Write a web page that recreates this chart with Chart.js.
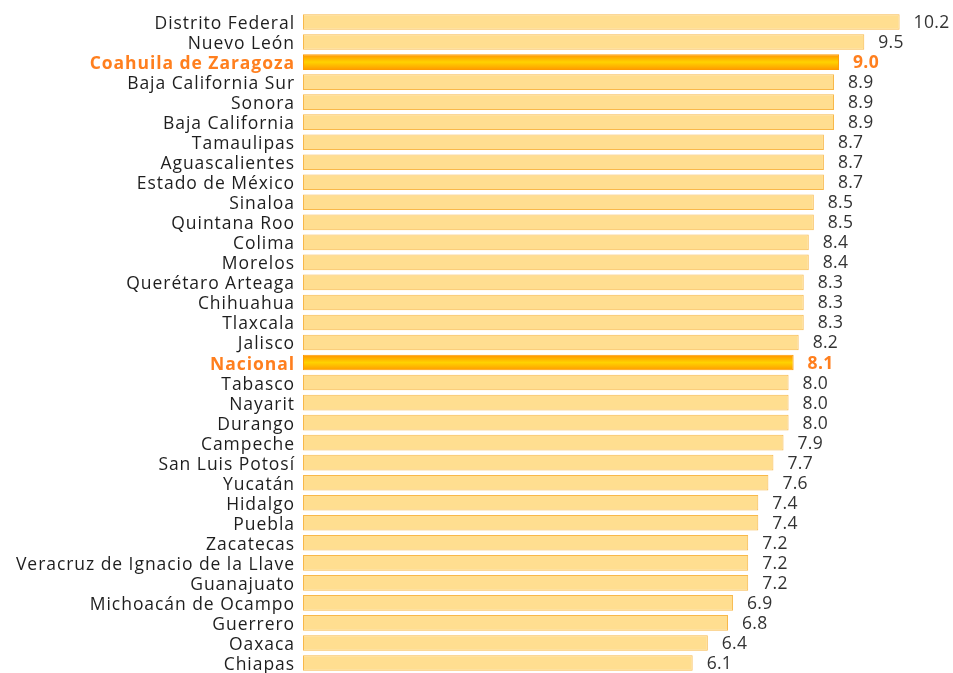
<!DOCTYPE html>
<html>
<head>
<meta charset="utf-8">
<script src="https://cdn.jsdelivr.net/npm/chart.js@4.4.1/dist/chart.umd.min.js"></script>
<style>
    html, body { margin: 0; padding: 0; background: #fff; }
    #wrap { width: 953px; height: 673px; }
</style>
</head>
<body>
<div id="wrap"><canvas id="chart" width="953" height="673"></canvas></div>
<script>
    // ===== Data =====
    const categories = ['Distrito Federal', 'Nuevo León', 'Coahuila de Zaragoza', 'Baja California Sur', 'Sonora',
        'Baja California', 'Tamaulipas', 'Aguascalientes', 'Estado de México', 'Sinaloa', 'Quintana Roo', 'Colima',
        'Morelos', 'Querétaro Arteaga', 'Chihuahua', 'Tlaxcala', 'Jalisco', 'Nacional', 'Tabasco', 'Nayarit',
        'Durango', 'Campeche', 'San Luis Potosí', 'Yucatán', 'Hidalgo', 'Puebla', 'Zacatecas',
        'Veracruz de Ignacio de la Llave', 'Guanajuato', 'Michoacán de Ocampo', 'Guerrero', 'Oaxaca', 'Chiapas'];
    const values = [10.2, 9.5, 9.0, 8.9, 8.9, 8.9, 8.7, 8.7, 8.7, 8.5, 8.5, 8.4, 8.4, 8.3, 8.3, 8.3, 8.2, 8.1,
        8.0, 8.0, 8.0, 7.9, 7.7, 7.6, 7.4, 7.4, 7.2, 7.2, 7.2, 6.9, 6.8, 6.4, 6.1];
    const highlighted = ['Coahuila de Zaragoza', 'Nacional'];

    const FONT = '"Open Sans", "DejaVu Sans", sans-serif';
    const ORANGE = '#ff7f1e';
    const AXIS_MIN = -1.62;
    const isHi = i => highlighted.includes(categories[i]);

    // vertical orange-yellow-orange gradient for the highlighted bars
    function hiGradient(ctx) {
        const y = ctx.chart.scales.y;
        if (!y) return '#ffc400';
        const cy = y.getPixelForValue(ctx.dataIndex);
        const h = (y.height / categories.length) * 0.78;
        const g = ctx.chart.ctx.createLinearGradient(0, cy - h / 2, 0, cy + h / 2);
        g.addColorStop(0, '#ff9200');
        g.addColorStop(0.5, '#ffd200');
        g.addColorStop(1, '#ff9a00');
        return g;
    }

    // wider letter spacing, like the original typeface
    const spacing = {
        id: 'spacing',
        beforeDraw(chart) {
            chart.ctx.letterSpacing = '0.95px';
        }
    };

    // value labels at the bar ends
    const valueLabels = {
        id: 'valueLabels',
        afterDatasetsDraw(chart) {
            const c = chart.ctx;
            const meta = chart.getDatasetMeta(0);
            c.save();
            c.letterSpacing = '0.3px';
            c.textBaseline = 'middle';
            c.textAlign = 'left';
            meta.data.forEach((bar, i) => {
                c.font = (isHi(i) ? 'bold ' : '') + '17.5px ' + FONT;
                c.fillStyle = isHi(i) ? ORANGE : '#333';
                c.fillText(values[i].toFixed(1), bar.x + 14, bar.y + 1);
            });
            c.restore();
        }
    };

    new Chart(document.getElementById('chart').getContext('2d'), {
        type: 'bar',
        data: {
            labels: categories,
            datasets: [{
                data: values,
                base: AXIS_MIN,
                backgroundColor: ctx => isHi(ctx.dataIndex) ? hiGradient(ctx) : '#ffde90',
                borderColor: ctx => isHi(ctx.dataIndex) ? '#ff9a00' : '#f8b84a',
                borderWidth: 1,
                borderSkipped: false,
                barPercentage: 0.78,
                categoryPercentage: 1.0
            }]
        },
        options: {
            indexAxis: 'y',
            responsive: false,
            animation: false,
            layout: { padding: { top: 12, right: 13, bottom: -1, left: 0 } },
            plugins: {
                legend: { display: false },
                tooltip: { enabled: false }
            },
            scales: {
                x: {
                    min: AXIS_MIN,
                    max: 11,
                    display: false
                },
                y: {
                    grid: { display: false, drawTicks: false },
                    border: { display: false },
                    afterFit: scale => {
                        scale.width = 303;
                        scale.paddingTop = 0;
                        scale.paddingBottom = 0;
                    },
                    ticks: {
                        autoSkip: false,
                        padding: 8,
                        labelOffset: 2,
                        color: ctx => isHi(ctx.index) ? ORANGE : '#1e1e1e',
                        font: ctx => ({
                            family: FONT,
                            size: 17.5,
                            weight: isHi(ctx.index) ? 'bold' : 'normal'
                        })
                    }
                }
            }
        },
        plugins: [spacing, valueLabels]
    });
</script>
</body>
</html>
